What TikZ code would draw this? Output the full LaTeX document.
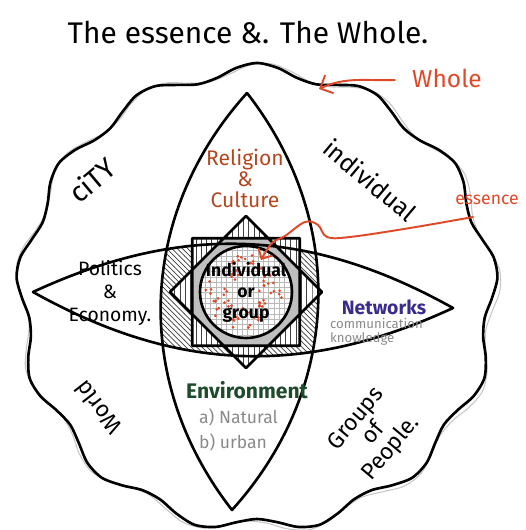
\documentclass[tikz,border=0pt]{standalone}
\usepackage{fontspec}
\setmainfont{Fira Sans}
\usetikzlibrary{arrows.meta,positioning,calc,patterns}
\definecolor{inkrust}{HTML}{B4471F}
\definecolor{inkred}{HTML}{E0482A}
\definecolor{inkblue}{HTML}{3A2C8E}
\definecolor{inkgreen}{HTML}{1E4B2C}
\definecolor{inkgrey}{HTML}{8A8A8A}
\newcommand\penfont[2]{\fontsize{#1}{#2}\selectfont}
\tikzset{pen/.style={line width=1.5pt,line join=round},redpen/.style={inkred,line width=1.1pt,line cap=round},hand/.style={align=center,inner sep=1pt},every picture/.style={line cap=round}}

\begin{document}
\begin{tikzpicture}[x=0.02cm,y=0.02cm]
\useasboundingbox (0,0) rectangle (526,530);
\node[hand,font=\penfont{17}{19}] (title) at (248,498) {The essence \&. The Whole.};
\draw[gray!45,line width=.6pt] plot[smooth cycle,domain=2:357,samples=72,variable=\t] ({258+(237+7*sin(13*\t+20))*cos(\t)},{231+(229+7*sin(13*\t+20))*sin(\t)});
\draw[pen] plot[smooth cycle,domain=0:355,samples=72,variable=\t] ({257+(235+7*sin(13*\t))*cos(\t)},{232+(228+7*sin(13*\t))*sin(\t)});
\coordinate (vt) at (247,437); \coordinate (vb) at (232,20); \coordinate (hl) at (33,238); \coordinate (hr) at (453,222);
\coordinate (c) at (246,238);
\begin{scope}
\clip (vt) to[bend left=40] (vb) to[bend left=40] (vt);
\fill[pattern=north west lines,pattern color=black!75] (hl) to[bend left=27] (hr) to[bend left=27] (hl);
\end{scope}
\foreach \k in {0,...,7}{\coordinate (o\k) at ($(c)+(90+45*\k:76)$); \coordinate (i\k) at ($(c)+(112.5+45*\k:58)$);}
\fill[pattern=vertical lines,pattern color=black!75,preaction={fill=white}] (o0)--(i0)--(o1)--(i1)--(o2)--(i2)--(o3)--(i3)--(o4)--(i4)--(o5)--(i5)--(o6)--(i6)--(o7)--(i7)--cycle;
\fill[gray!50] (i0)--(i1)--(i2)--(i3)--(i4)--(i5)--(i6)--(i7)--cycle;
\fill[white] (c) circle (46);
\fill[pattern=grid,pattern color=gray!55] (c) circle (46);
\pgfmathsetseed{11}
\foreach \k in {1,...,70}{\fill[inkred] ($(c)+({rnd*360}:{12+31*rnd})$) circle (1.5);}
\draw[pen] (vt) to[bend left=40] (vb) to[bend left=40] (vt);
\draw[pen] (hl) to[bend left=27] (hr) to[bend left=27] (hl);
\draw[pen] (o0)--(o2)--(o4)--(o6)--cycle (o1)--(o3)--(o5)--(o7)--cycle;
\draw[pen] (c) circle (46);
\node[hand,font=\penfont{10}{12}\bfseries] (core) at (c) {Individual\\or\\group};
\node[hand,font=\penfont{12}{12},inkrust] (religion) at (245,352) {Religion\\\&\\Culture};
\node[hand,font=\penfont{11}{13}] (politics) at (110,237) {Politics\\\&\\Economy.};
\node[hand,font=\penfont{11}{13}\bfseries,inkblue] (networks) at (384,223) {Networks};
\node[hand,align=left,anchor=west,font=\penfont{7.5}{8},inkgrey] (netsub) at (328,198) {communication\\knowledge};
\node[hand,font=\penfont{12}{14}\bfseries,inkgreen] (environment) at (247,140) {Environment};
\node[hand,align=left,anchor=west,font=\penfont{10}{14},inkgrey] (envsub) at (197,100) {a) Natural\\b) urban};
\node[hand,font=\penfont{16}{18},rotate=40] (city) at (92,350) {ciTY};
\node[hand,font=\penfont{14}{16},rotate=-40] (indiv) at (370,350) {individual};
\node[hand,font=\penfont{13}{15},rotate=128] (world) at (98,122) {World};
\node[hand,font=\penfont{13}{13},rotate=50] (groups) at (374,96) {Groups\\of\\People.};
\node[hand,font=\penfont{14}{16},inkred] (wholelbl) at (447,452) {Whole};
\node[hand,font=\penfont{10}{12},inkred] (essencelbl) at (487,330) {essence};
\coordinate (w0) at (395,450); \coordinate (wtip) at (319,441);
\draw[redpen,-{Straight Barb[length=2mm]}] (w0) to[out=182,in=25] (wtip);
\coordinate (e0) at (473,313); \coordinate (etip) at (261,270);
\draw[redpen,-{Straight Barb[length=1.6mm]}] plot[smooth,tension=.6] coordinates {(e0) (410,302) (350,293) (327,293) (318,305) (305,308) (285,294) (272,287) (etip)};
\end{tikzpicture}
\end{document}
